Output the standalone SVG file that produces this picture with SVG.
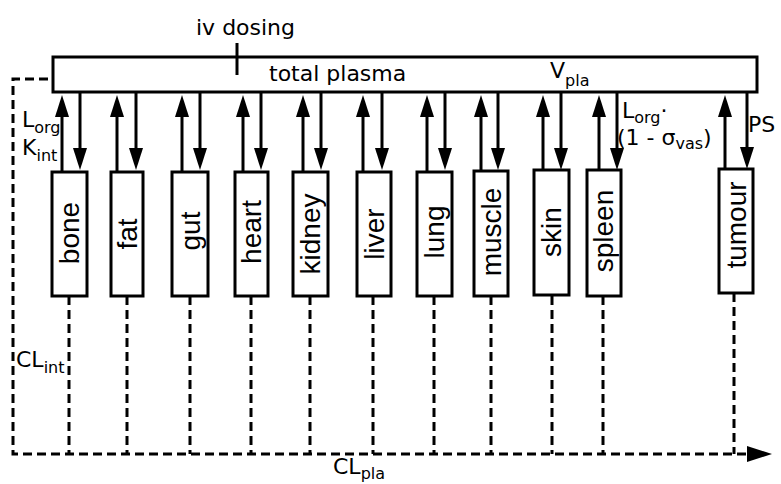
<svg xmlns="http://www.w3.org/2000/svg" width="781" height="484" viewBox="0 0 781 484">
<style>
.box{fill:#fff;stroke:#000;stroke-width:3}
.ln{stroke:#000;stroke-width:3;fill:none}
.dash{stroke:#000;stroke-width:3;fill:none;stroke-dasharray:9 5}
.t{font-family:"DejaVu Sans",sans-serif;font-size:22px;fill:#000}
.sub{font-size:16px}
.org{font-family:"Liberation Sans",Arial,sans-serif;font-size:28px;fill:#000;text-anchor:middle}
</style>
<defs>
<marker id="ah" markerUnits="userSpaceOnUse" markerWidth="24" markerHeight="16" refX="0" refY="7" orient="auto" overflow="visible">
<path d="M0,0 L22,7 L0,14 Z" fill="#000"/>
</marker>
<marker id="ahd" markerUnits="userSpaceOnUse" markerWidth="26" markerHeight="18" refX="0" refY="8" orient="auto" overflow="visible">
<path d="M0,0 L25,8 L0,16 Z" fill="#000"/>
</marker>
</defs>
<rect width="781" height="484" fill="#fff"/>

<g id="plasma">
<rect class="box" x="53" y="57" width="704" height="35"/>
<text class="t" x="269" y="81">total plasma</text>
<text class="t" x="550" y="78">V<tspan class="sub" dy="8">pla</tspan></text>
</g>

<g id="dosing">
<line class="ln" x1="237" y1="43" x2="237" y2="75"/>
<text class="t" x="196" y="35">iv dosing</text>
</g>

<g id="connectors">
<line class="ln" x1="62" y1="171" x2="62" y2="117" marker-end="url(#ah)"/>
<line class="ln" x1="117" y1="171" x2="117" y2="117" marker-end="url(#ah)"/>
<line class="ln" x1="182" y1="171" x2="182" y2="117" marker-end="url(#ah)"/>
<line class="ln" x1="243" y1="171" x2="243" y2="117" marker-end="url(#ah)"/>
<line class="ln" x1="303" y1="171" x2="303" y2="117" marker-end="url(#ah)"/>
<line class="ln" x1="363" y1="171" x2="363" y2="117" marker-end="url(#ah)"/>
<line class="ln" x1="427" y1="171" x2="427" y2="117" marker-end="url(#ah)"/>
<line class="ln" x1="481" y1="171" x2="481" y2="117" marker-end="url(#ah)"/>
<line class="ln" x1="543" y1="171" x2="543" y2="117" marker-end="url(#ah)"/>
<line class="ln" x1="599" y1="171" x2="599" y2="117" marker-end="url(#ah)"/>
<line class="ln" x1="725" y1="170" x2="725" y2="117" marker-end="url(#ah)"/>
<line class="ln" x1="80" y1="92" x2="80" y2="148" marker-end="url(#ah)"/>
<line class="ln" x1="136" y1="92" x2="136" y2="148" marker-end="url(#ah)"/>
<line class="ln" x1="200" y1="92" x2="200" y2="148" marker-end="url(#ah)"/>
<line class="ln" x1="261" y1="92" x2="261" y2="148" marker-end="url(#ah)"/>
<line class="ln" x1="321" y1="92" x2="321" y2="148" marker-end="url(#ah)"/>
<line class="ln" x1="382" y1="92" x2="382" y2="148" marker-end="url(#ah)"/>
<line class="ln" x1="445" y1="92" x2="445" y2="148" marker-end="url(#ah)"/>
<line class="ln" x1="498" y1="92" x2="498" y2="148" marker-end="url(#ah)"/>
<line class="ln" x1="561" y1="92" x2="561" y2="148" marker-end="url(#ah)"/>
<line class="ln" x1="617" y1="92" x2="617" y2="148" marker-end="url(#ah)"/>
<line class="ln" x1="747" y1="92" x2="747" y2="147" marker-end="url(#ah)"/>
<path class="dash" d="M48,79 H13 V454 H747" marker-end="url(#ahd)"/>
<line class="dash" x1="69" y1="296" x2="69" y2="454"/>
<line class="dash" x1="127" y1="296" x2="127" y2="454"/>
<line class="dash" x1="190" y1="296" x2="190" y2="454"/>
<line class="dash" x1="251" y1="296" x2="251" y2="454"/>
<line class="dash" x1="310" y1="296" x2="310" y2="454"/>
<line class="dash" x1="373" y1="296" x2="373" y2="454"/>
<line class="dash" x1="434" y1="296" x2="434" y2="454"/>
<line class="dash" x1="491" y1="296" x2="491" y2="454"/>
<line class="dash" x1="552" y1="296" x2="552" y2="454"/>
<line class="dash" x1="603" y1="296" x2="603" y2="454"/>
<line class="dash" x1="734" y1="293" x2="734" y2="454"/>
</g>

<g id="labels">
<text class="t" x="22" y="127">L<tspan class="sub" dy="6">org</tspan></text>
<text class="t" x="22" y="155">K<tspan class="sub" dy="6">int</tspan></text>
<text class="t" x="622" y="118">L<tspan class="sub" dy="5">org</tspan><tspan dy="-5">·</tspan></text>
<text class="t" x="617" y="145">(1 - σ<tspan class="sub" dy="4">vas</tspan><tspan dy="-4">)</tspan></text>
<text class="t" x="748" y="132">PS</text>
<text class="t" x="16" y="367">CL<tspan class="sub" dy="6">int</tspan></text>
<text class="t" x="333" y="474">CL<tspan class="sub" dy="5">pla</tspan></text>
</g>

<g id="bone"><rect class="box" x="52" y="172" width="35" height="124"/><text class="org" transform="translate(79,233) rotate(-90)">bone</text></g>
<g id="fat"><rect class="box" x="111" y="172" width="32" height="124"/><text class="org" transform="translate(137,234) rotate(-90)">fat</text></g>
<g id="gut"><rect class="box" x="172" y="172" width="36" height="124"/><text class="org" transform="translate(200,231) rotate(-90)">gut</text></g>
<g id="heart"><rect class="box" x="235" y="172" width="33" height="124"/><text class="org" transform="translate(261,232) rotate(-90)">heart</text></g>
<g id="kidney"><rect class="box" x="293" y="172" width="35" height="124"/><text class="org" transform="translate(320,234) rotate(-90)">kidney</text></g>
<g id="liver"><rect class="box" x="357" y="172" width="34" height="124"/><text class="org" transform="translate(384,234) rotate(-90)">liver</text></g>
<g id="lung"><rect class="box" x="417" y="172" width="35" height="124"/><text class="org" transform="translate(444,232) rotate(-90)">lung</text></g>
<g id="muscle"><rect class="box" x="474" y="171" width="34" height="125"/><text class="org" transform="translate(501,232) rotate(-90)">muscle</text></g>
<g id="skin"><rect class="box" x="534" y="170" width="35" height="125"/><text class="org" transform="translate(561,232) rotate(-90)">skin</text></g>
<g id="spleen"><rect class="box" x="587" y="170" width="34" height="126"/><text class="org" transform="translate(613,231) rotate(-90)">spleen</text></g>
<g id="tumour"><rect class="box" x="719" y="169" width="34" height="124"/><text class="org" transform="translate(746,225) rotate(-90)">tumour</text></g>
</svg>
